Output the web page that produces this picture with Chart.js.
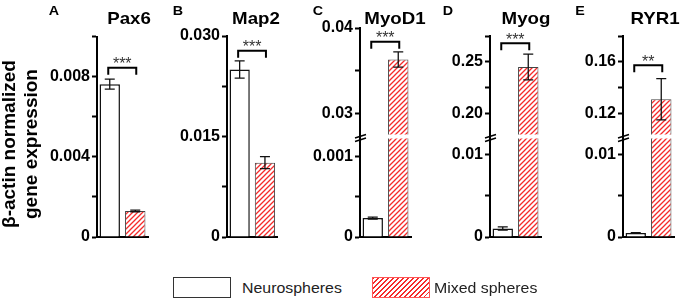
<!DOCTYPE html>
<html><head><meta charset="utf-8">
<script src="https://cdn.jsdelivr.net/npm/chart.js@4.4.1/dist/chart.umd.min.js"></script>
<style>
html,body{margin:0;padding:0;background:#fff;}
#fig{position:relative;width:680px;height:302px;overflow:hidden;font-family:"Liberation Sans",Arial,sans-serif;color:#000;}
#fig canvas{position:absolute;top:0;}
.t{position:absolute;font-weight:bold;white-space:nowrap;}
</style></head><body><div id="fig"></div>
<script>
// ---------- data ----------
const genes = ['Pax6','Map2','MyoD1','Myog','RYR1'];
const panelLetters = ['A','B','C','D','E'];
const groups = ['Neurospheres','Mixed spheres'];
const neuroMean = [0.00763, 0.0250, 0.000235, 0.00103, 0.00050];
const neuroSem  = [0.00025, 0.0013, 0.000012, 0.00020, 0.00004];
const mixedMean = [0.00130, 0.0111, 0.0363, 0.245, 0.131];
const mixedSem  = [0.00004, 0.0009, 0.0009, 0.0125, 0.016];
const sigLabels = ['***','***','***','***','**'];
const sigLevel  = [0.00845, 0.0278, 0.0384, 0.268, 0.1574];
const yTitle = ['β-actin normalized','gene expression'];
// lower (or only) axis segment
const lowMin = [0, 0, 0, 0, 0];
const lowMax = [0.010, 0.030, 0.00122, 0.012, 0.012];
const lowTicks = [[0,0.002,0.004,0.006,0.008,0.010],[0,0.0075,0.015,0.0225,0.030],[0,0.0005,0.001],[0,0.005,0.01],[0,0.005,0.01]];
const lowTickLabels = [['0','','0.004','','0.008',''],['0','','0.015','','0.030'],['0','','0.001'],['0','','0.01'],['0','','0.01']];
// upper axis segment (broken axes)
const highMin = [null, null, 0.0275, 0.1795, 0.1036];
const highMax = [null, null, 0.04, 0.275, 0.18];
const highTicks = [null, null, [0.03,0.035,0.04], [0.20,0.225,0.25,0.275], [0.12,0.14,0.16,0.18]];
const highTickLabels = [null, null, ['0.03','','0.04'], ['0.20','','0.25',''], ['0.12','','0.16','']];

// ---------- layout (positions/styles) ----------
const P = [
  {cl:40,  cw:115, ax:97,  xe:148,   top:36.7, tx:128.7, lx:54},
  {cl:160, cw:125, ax:227, xe:277.6, top:36,   tx:256,   lx:177.5},
  {cl:295, cw:125, ax:360, xe:411,   top:28,   tx:395,   lx:317.5},
  {cl:425, cw:125, ax:490, xe:541,   top:36,   tx:525.7, lx:448},
  {cl:555, cw:125, ax:623, xe:674,   top:36,   tx:655,   lx:580}
];
const CH = 250, BOTTOM = 237, BREAK_TOP = 134.5, BREAK_BOT = 138.5;
const FONT = "'Liberation Sans', Arial, sans-serif";
const fig = document.getElementById('fig');

function makeHatch(){
  const s = 5, c = document.createElement('canvas'); c.width = s; c.height = s;
  const g = c.getContext('2d');
  g.fillStyle = '#fff'; g.fillRect(0,0,s,s);
  g.strokeStyle = '#f52a2a'; g.lineWidth = 1.3;
  g.beginPath();
  g.moveTo(0,s); g.lineTo(s,0);
  g.moveTo(-1,1); g.lineTo(1,-1);
  g.moveTo(s-1,s+1); g.lineTo(s+1,s-1);
  g.stroke();
  return g.createPattern(c,'repeat');
}
const hatch = makeHatch();

const errPlugin = {id:'errbars', afterDatasetsDraw(chart){
  const ctx = chart.ctx, ys = chart.scales.y, a = chart.chartArea;
  const meta = chart.getDatasetMeta(0), ds = chart.data.datasets[0];
  ctx.save();
  ctx.beginPath(); ctx.rect(a.left, a.top-1, a.right-a.left, a.bottom-a.top+2); ctx.clip();
  ctx.strokeStyle = '#111'; ctx.lineWidth = 1.3;
  meta.data.forEach((bar,k)=>{
    const m = ds.data[k], e = ds.errs[k], x = bar.x, w = 5;
    const y1 = ys.getPixelForValue(m+e), y2 = ys.getPixelForValue(m-e);
    ctx.beginPath();
    ctx.moveTo(x,y1); ctx.lineTo(x,y2);
    ctx.moveTo(x-w,y1); ctx.lineTo(x+w,y1);
    ctx.moveTo(x-w,y2); ctx.lineTo(x+w,y2);
    ctx.stroke();
  });
  ctx.restore();
}};

function sigPlugin(i){ return {id:'sig', afterDatasetsDraw(chart){
  const ctx = chart.ctx, ys = chart.scales.y, meta = chart.getDatasetMeta(0);
  const x1 = meta.data[0].x - 1.5, x2 = meta.data[1].x + 1;
  const y = ys.getPixelForValue(sigLevel[i]);
  ctx.save();
  ctx.strokeStyle = '#000'; ctx.lineWidth = 2;
  ctx.beginPath(); ctx.moveTo(x1,y+7); ctx.lineTo(x1,y); ctx.lineTo(x2,y); ctx.lineTo(x2,y+7); ctx.stroke();
  ctx.fillStyle = '#333'; ctx.font = '16px ' + FONT; ctx.textAlign = 'center'; ctx.textBaseline = 'alphabetic';
  ctx.fillText(sigLabels[i], (x1+x2)/2, y+1.5);
  ctx.restore();
}}; }

const breakPlugin = {id:'brk', afterDraw(chart){
  const ctx = chart.ctx, ax = chart.chartArea.left;
  ctx.save(); ctx.strokeStyle = '#000';
  ctx.lineWidth = 2; ctx.beginPath(); ctx.moveTo(ax, BREAK_TOP); ctx.lineTo(ax, BREAK_BOT+1); ctx.stroke();
  ctx.lineWidth = 1.5; ctx.beginPath();
  ctx.moveTo(ax-5, 138); ctx.lineTo(ax+6, 134.5);
  ctx.moveTo(ax-5, 141.5); ctx.lineTo(ax+6, 138);
  ctx.stroke(); ctx.restore();
}};

function makeChart(i, seg){
  const L = P[i];
  const broken = highTicks[i] !== null;
  const isHigh = seg === 'high';
  const cv = document.createElement('canvas');
  cv.width = L.cw; cv.height = CH; cv.style.left = L.cl + 'px';
  fig.appendChild(cv);
  const top = isHigh ? L.top : (broken ? BREAK_BOT : L.top);
  const bottom = isHigh ? BREAK_TOP : BOTTOM;
  const tv = isHigh ? highTicks[i] : lowTicks[i];
  const tl = isHigh ? highTickLabels[i] : lowTickLabels[i];
  const plugins = [errPlugin];
  if (isHigh || !broken) plugins.push(sigPlugin(i));
  if (broken && !isHigh) plugins.push(breakPlugin);
  return new Chart(cv, {
    type: 'bar',
    data: {labels: groups, datasets: [{
      data: [neuroMean[i], mixedMean[i]],
      errs: [neuroSem[i], mixedSem[i]],
      backgroundColor: ['#ffffff', hatch],
      borderColor: ['#111', '#444'],
      borderWidth: [1.5, 1],
      borderSkipped: 'start',
      barPercentage: 0.8, categoryPercentage: 1
    }]},
    options: {
      responsive: false, animation: false, devicePixelRatio: 1,
      layout: {padding: {left: 0, right: L.cl + L.cw - L.xe, top: top, bottom: CH - bottom}},
      plugins: {legend: {display: false}, tooltip: {enabled: false}},
      scales: {
        x: {grid: {display: false}, ticks: {display: false},
            border: {display: !isHigh, color: '#000', width: 2},
            afterFit: s => { s.height = 0; }},
        y: {min: isHigh ? highMin[i] : lowMin[i], max: isHigh ? highMax[i] : lowMax[i],
            grid: {drawOnChartArea: false, drawTicks: true, tickLength: 5, tickWidth: 2, color: '#000'},
            border: {display: true, color: '#000', width: 2},
            ticks: {autoSkip: false, padding: 2, color: '#000', font: {family: FONT, size: 16, weight: 'bold'},
                    callback: (v, idx) => tl[idx]},
            afterBuildTicks: s => { s.ticks = tv.map(v => ({value: v})); },
            afterFit: s => { s.width = L.ax - L.cl; }}
      }
    },
    plugins: plugins
  });
}

genes.forEach((g, i) => {
  makeChart(i, 'low');
  if (highTicks[i] !== null) makeChart(i, 'high');
  const t = document.createElement('div'); t.className = 't'; t.textContent = g;
  t.style.cssText += `left:${P[i].tx}px;top:9px;font-size:17px;line-height:20px;transform:translateX(-50%) scaleX(1.1);`;
  fig.appendChild(t);
  const l = document.createElement('div'); l.className = 't'; l.textContent = panelLetters[i];
  l.style.cssText += `left:${P[i].lx}px;top:3px;font-size:13px;line-height:15px;transform:translateX(-50%) scaleX(1.1);`;
  fig.appendChild(l);
});

// y axis title
const yt = document.createElement('div'); yt.className = 't';
yt.style.cssText += 'left:-70px;top:122px;width:180px;height:44px;font-size:19px;line-height:22px;text-align:center;transform:rotate(-90deg);';
yt.innerHTML = yTitle[0] + '<br>' + yTitle[1];
fig.appendChild(yt);

// legend
const legSw = [
  {left:173, style:'background:#fff;border:1px solid #333;'},
  {left:372, style:'background:repeating-linear-gradient(135deg,#f52a2a 0 1.2px,#fff 1.2px 3.5px);border:1px solid #f55;'}
];
const legTx = [242, 434];
groups.forEach((g, k) => {
  const b = document.createElement('div');
  b.style.cssText = `position:absolute;left:${legSw[k].left}px;top:277px;width:56px;height:19px;` + legSw[k].style;
  fig.appendChild(b);
  const tx = document.createElement('div');
  tx.textContent = g;
  tx.style.cssText = `position:absolute;left:${legTx[k]}px;top:279px;font-size:15px;line-height:18px;color:#222;white-space:nowrap;transform-origin:left center;transform:scaleX(1.06);`;
  fig.appendChild(tx);
});
</script></body></html>
